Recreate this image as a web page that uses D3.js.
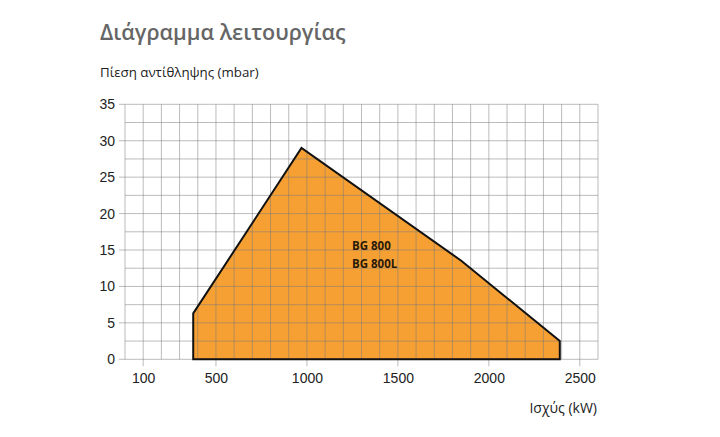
<!DOCTYPE html>
<html><head><meta charset="utf-8">
<script src="https://cdn.jsdelivr.net/npm/d3@7/dist/d3.min.js"></script>
<style>body{margin:0;background:#fff}</style>
</head><body><svg id="c" width="720" height="437"></svg>
<script>
const xTicks = [100, 500, 1000, 1500, 2000, 2500];
const yTicks = [0, 5, 10, 15, 20, 25, 30, 35];
const powerKW = [375, 375, 970, 1850, 2390, 2390];
const pressureMbar = [0, 6.3, 29, 13.5, 2.5, 0];
const models = ["BG 800", "BG 800L"];

const svg = d3.select("#c");
const x = d3.scaleLinear().domain([0, 2600]).range([125, 598]);
const y = d3.scaleLinear().domain([0, 35]).range([359.3, 104.3]);

// fill
const pts = powerKW.map((p, i) => [x(p), y(pressureMbar[i])]);
svg.append("path").attr("d", d3.line()(pts) + "Z").attr("fill", "#f6a034");

// grid
const g = svg.append("g").attr("stroke", "#7a7a7a").attr("stroke-opacity", 0.5).attr("stroke-width", 1);
d3.range(0, 2601, 100).forEach(v => {
  g.append("line").attr("x1", x(v)).attr("x2", x(v)).attr("y1", y(35)).attr("y2", y(0));
});
d3.range(0, 35.01, 2.5).forEach(v => {
  g.append("line").attr("x1", x(0)).attr("x2", x(2600)).attr("y1", y(v)).attr("y2", y(v));
});
// tick marks
xTicks.forEach(v => g.append("line").attr("x1", x(v)).attr("x2", x(v)).attr("y1", y(0)).attr("y2", y(0) + 7));
yTicks.forEach(v => g.append("line").attr("x1", x(0) - 6).attr("x2", x(0)).attr("y1", y(v)).attr("y2", y(v)));

// outline
svg.append("path").attr("d", d3.line()(pts) + "Z").attr("fill", "none")
  .attr("stroke", "#111").attr("stroke-width", 2).attr("stroke-linejoin", "miter");

// axes labels
const xa = svg.append("g").attr("transform", `translate(0,${y(0)})`)
  .call(d3.axisBottom(x).tickValues(xTicks).tickFormat(d3.format("d")).tickSize(0).tickPadding(14));
xa.select(".domain").remove();
xa.selectAll("text").attr("font-family", "Liberation Sans, Arial, sans-serif").attr("font-size", 14).attr("fill", "#222");

const ya = svg.append("g").attr("transform", `translate(${x(0)},0)`)
  .call(d3.axisLeft(y).tickValues(yTicks).tickFormat(d3.format("d")).tickSize(0).tickPadding(10));
ya.select(".domain").remove();
ya.selectAll("text").attr("font-family", "Liberation Sans, Arial, sans-serif").attr("font-size", 14).attr("fill", "#222");

// texts
svg.append("text").attr("x", 100).attr("y", 40).text("Διάγραμμα λειτουργίας")
  .attr("font-family", "Open Sans, sans-serif").attr("font-weight", 600).attr("font-size", 21.5).attr("fill", "#666");
svg.append("text").attr("x", 100).attr("y", 77).text("Πίεση αντίθληψης (mbar)")
  .attr("font-family", "Open Sans, sans-serif").attr("font-size", 13.3).attr("fill", "#222");
svg.append("text").attr("x", 597).attr("y", 413).attr("text-anchor", "end").text("Ισχύς (kW)")
  .attr("font-family", "Open Sans, sans-serif").attr("font-size", 14).attr("fill", "#222");

models.forEach((m, i) => {
  svg.append("text").attr("x", 352).attr("y", 250 + i * 18).text(m)
    .attr("font-family", "Open Sans, sans-serif").attr("font-weight", 700).attr("font-size", 11.5).attr("fill", "#2a1a0a");
});
</script></body></html>
